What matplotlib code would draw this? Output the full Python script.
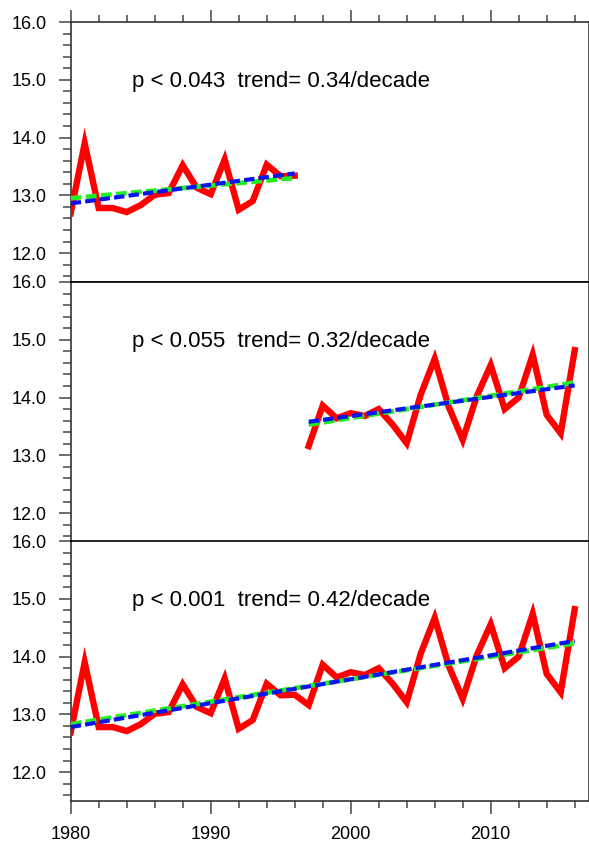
import numpy as np
import matplotlib
matplotlib.use("Agg")
import matplotlib.pyplot as plt
from matplotlib.ticker import MultipleLocator

plt.rcParams['font.family'] = ['Liberation Sans', 'DejaVu Sans']

anios = list(range(1980, 2017))
temperatura = [12.69, 13.90, 12.78, 12.78, 12.71, 12.83, 13.01, 13.04, 13.52, 13.13,
               13.02, 13.62, 12.75, 12.90, 13.53, 13.33, 13.34, 13.16, 13.86, 13.64,
               13.73, 13.68, 13.80, 13.53, 13.21, 14.05, 14.67, 13.84, 13.27, 14.02,
               14.56, 13.80, 14.00, 14.74, 13.70, 13.38, 14.82]

# periodos de cada panel
periodos = [(1980, 1996), (1997, 2016), (1980, 2016)]
textos = ["p < 0.043  trend= 0.34/decade",
          "p < 0.055  trend= 0.32/decade",
          "p < 0.001  trend= 0.42/decade"]

# extremos de las rectas de tendencia
tendencia_verde = [(12.95, 13.30), (13.53, 14.26), (12.83, 14.23)]
tendencia_azul = [(12.86, 13.38), (13.58, 14.21), (12.78, 14.27)]

COLOR_EJE = "#333333"


def dibujar_panel(ax, periodo, texto, verde, azul, es_primero, es_ultimo):
    ini, fin = periodo
    xs = [a for a in anios if ini <= a <= fin]
    ys = [t for a, t in zip(anios, temperatura) if ini <= a <= fin]
    ax.plot(xs, ys, color="#ff0000", lw=4.6, solid_joinstyle="miter", zorder=3)
    ax.plot([ini, fin], verde, color="#22ee22", lw=3.4, dashes=(2.3, 0.9), zorder=4)
    ax.plot([ini, fin], azul, color="#0a14f0", lw=3.0, dashes=(2.5, 1.0), zorder=5)
    ax.text(0.118, 0.772, texto, transform=ax.transAxes, fontsize=16,
            va="center", ha="left")

    ax.set_xlim(1980, 2017)
    ax.set_ylim(11.5, 16.0)
    ax.yaxis.set_minor_locator(MultipleLocator(0.2))
    ax.xaxis.set_major_locator(MultipleLocator(10))
    ax.xaxis.set_minor_locator(MultipleLocator(2))
    ax.set_yticks(np.arange(12.0, 16.01, 1.0))
    ax.set_yticklabels(["%.1f" % v for v in np.arange(12.0, 16.01, 1.0)])

    for lado in ax.spines.values():
        lado.set_color(COLOR_EJE)
        lado.set_linewidth(1.2)
    # las lineas que separan los paneles se ven negras
    if not es_primero:
        ax.spines["top"].set_color("black")
    if not es_ultimo:
        ax.spines["bottom"].set_color("black")

    ax.tick_params(axis="y", which="major", direction="out", length=9, width=1.2,
                   color="#555555", labelsize=13, pad=8)
    ax.tick_params(axis="y", which="minor", direction="out", length=5.5, width=1.2,
                   color="#555555")
    ax.tick_params(axis="x", which="major", direction="out", length=9, width=1.2,
                   color="#555555", labelsize=13, pad=9)
    ax.tick_params(axis="x", which="minor", direction="out", length=5, width=1.2,
                   color="#555555")
    ax.tick_params(axis="x", which="both", top=es_primero, bottom=es_ultimo,
                   labelbottom=es_ultimo, labeltop=False)


fig = plt.figure(figsize=(5.89, 8.43), dpi=100)
izq, ancho = 0.12, 0.8795
alto = 0.3084
abajos = [0.6655, 0.3571, 0.0498]
for i in range(3):
    ax = fig.add_axes([izq, abajos[i], ancho, alto])
    dibujar_panel(ax, periodos[i], textos[i], tendencia_verde[i],
                  tendencia_azul[i], i == 0, i == 2)

fig.savefig("out.png", dpi=100)
